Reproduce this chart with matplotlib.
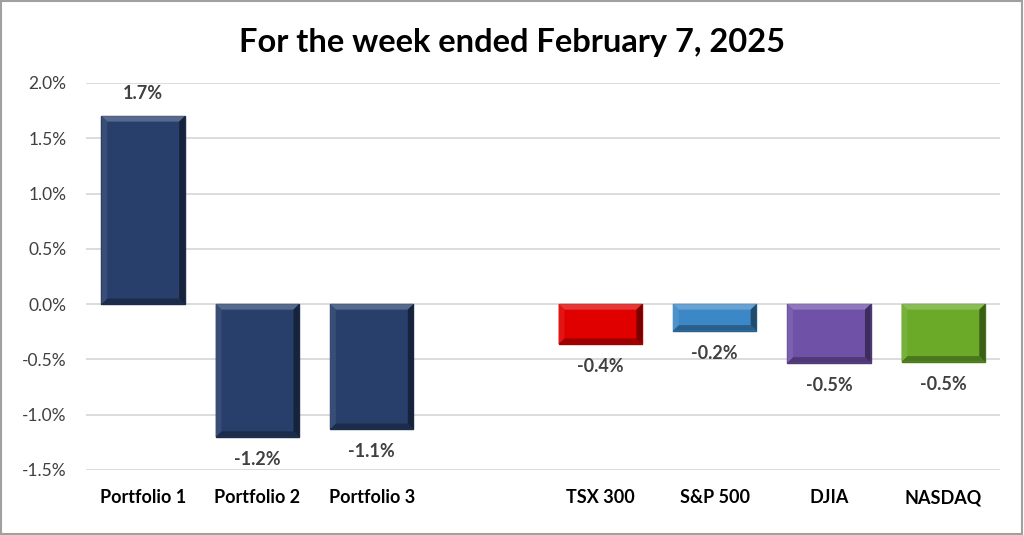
import matplotlib.pyplot as plt
from matplotlib.patches import Polygon
from matplotlib.colors import to_rgb
import numpy as np

# data
categories = ['Portfolio 1', 'Portfolio 2', 'Portfolio 3', '', 'TSX 300', 'S&P 500', 'DJIA', 'NASDAQ']
values = [1.70, -1.20, -1.13, None, -0.36, -0.24, -0.53, -0.52]
labels = ['1.7%', '-1.2%', '-1.1%', '', '-0.4%', '-0.2%', '-0.5%', '-0.5%']
colors = ['#283F6B', '#283F6B', '#283F6B', None, '#E00000', '#3C88C6', '#6F52A8', '#6AAA28']

plt.rcParams['font.family'] = ['Lato', 'DejaVu Sans']

fig = plt.figure(figsize=(10.24, 5.35), dpi=100)
ax = fig.add_axes([0.084, 0.1215, 0.893, 0.7235])

def shade(c, f):
    r, g, b = to_rgb(c)
    if f > 0:
        return (r + (1 - r) * f, g + (1 - g) * f, b + (1 - b) * f)
    return (r * (1 + f), g * (1 + f), b * (1 + f))

w = 0.73
bx, by = 0.05, 0.05
for i, (v, c) in enumerate(zip(values, colors)):
    if v is None:
        continue
    x0, x1 = i - w / 2, i + w / 2
    y0, y1 = min(0, v), max(0, v)
    ax.bar(i, v, width=w, color=c, edgecolor=shade(c, -0.3), linewidth=1.0, zorder=3)
    # bevel edges
    ix0, ix1, iy0, iy1 = x0 + bx, x1 - bx, y0 + by, y1 - by
    ax.add_patch(Polygon([(x0, y1), (x1, y1), (ix1, iy1), (ix0, iy1)], closed=True,
                         color=shade(c, 0.22), lw=0, zorder=4))
    ax.add_patch(Polygon([(x0, y0), (x1, y0), (ix1, iy0), (ix0, iy0)], closed=True,
                         color=shade(c, -0.3), lw=0, zorder=4))
    ax.add_patch(Polygon([(x0, y0), (x0, y1), (ix0, iy1), (ix0, iy0)], closed=True,
                         color=shade(c, 0.08), lw=0, zorder=4))
    ax.add_patch(Polygon([(x1, y0), (x1, y1), (ix1, iy1), (ix1, iy0)], closed=True,
                         color=shade(c, -0.45), lw=0, zorder=4))

for i, (v, t) in enumerate(zip(values, labels)):
    if v is None:
        continue
    off = 10 if v > 0 else -10
    ax.annotate(t, (i, v), xytext=(0, off), textcoords='offset points',
                ha='center', va='bottom' if v > 0 else 'top',
                fontsize=13, fontweight='bold', color='#404040')

ax.set_xlim(-0.5, 7.5)
ax.set_ylim(-1.5, 2.0)
ax.set_yticks(np.arange(-1.5, 2.01, 0.5))
ax.set_yticklabels([f'{t:.1f}%' for t in np.arange(-1.5, 2.01, 0.5)], fontsize=12.5, color='#404040')
ax.set_xticks(range(len(categories)))
ax.set_xticklabels(categories, fontsize=13, fontweight='bold', color='black')
ax.tick_params(axis='both', length=0)
ax.tick_params(axis='x', pad=14)
ax.tick_params(axis='y', pad=14)
ax.grid(axis='y', color='#D9D9D9', linewidth=1.3, zorder=0)
for s in ax.spines.values():
    s.set_visible(False)

fig.suptitle('For the week ended February 7, 2025', y=0.948, fontsize=23.5, fontweight='bold')

# outer border
fig.patches.append(plt.Rectangle((0.001, 0.002), 0.997, 0.996, transform=fig.transFigure,
                                 fill=False, edgecolor='#A0A0A0', linewidth=1.5))

fig.savefig('out.png', dpi=100)
